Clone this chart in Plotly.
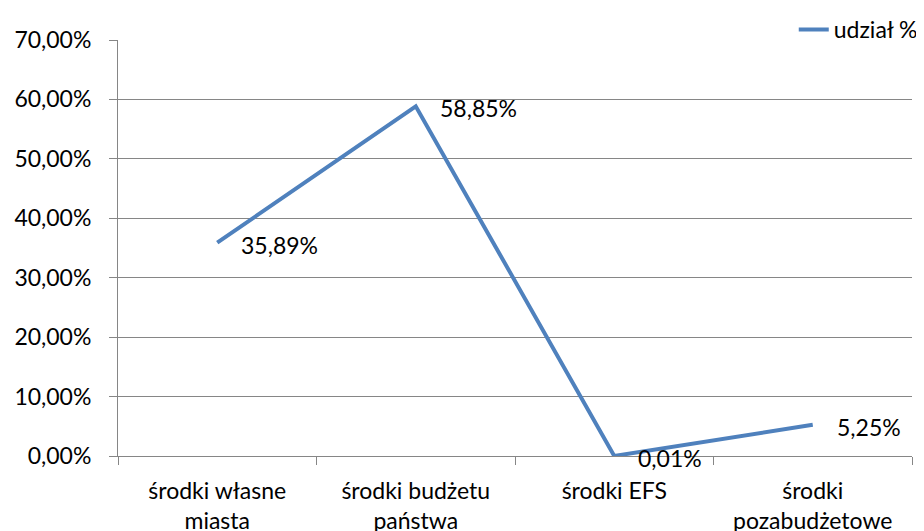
import plotly.graph_objects as go

categories = ["środki własne<br>miasta", "środki budżetu<br>państwa", "środki EFS", "środki<br>pozabudżetowe"]
values = [0.3589, 0.5885, 0.0001, 0.0525]
labels = ["35,89%", "58,85%", "0,01%", "5,25%"]
series_name = "udział %"

FONT = "Lato, Calibri, Carlito, sans-serif"
FS = 23
fig = go.Figure()
fig.add_trace(go.Scatter(
    x=categories, y=values, mode="lines", name=series_name,
    line=dict(color="#4F81BD", width=4),
))
for c, v, t in zip(categories, values, labels):
    fig.add_annotation(x=c, y=v, text=t, showarrow=False, xanchor="left",
                       yanchor="middle", xshift=22, yshift=-2,
                       font=dict(family=FONT, size=FS, color="#000000"))

fig.update_layout(
    width=924, height=531,
    margin=dict(l=110, r=20, t=32, b=83, autoexpand=False),
    paper_bgcolor="white", plot_bgcolor="white",
    separators=", ",
    font=dict(family=FONT, size=FS, color="#000000"),
    showlegend=True,
    legend=dict(xref="container", yref="container", x=0.99, xanchor="right",
                y=1.008, yanchor="top",
                bgcolor="rgba(0,0,0,0)", font=dict(size=FS),
                tracegroupgap=0),
    xaxis=dict(
        range=[-0.5, 3.5],
        showline=True, linecolor="#868686", linewidth=1,
        ticks="outside", ticklen=8, tickcolor="#868686", tickson="boundaries",
        showgrid=False, zeroline=False, ticklabelstandoff=14,
    ),
    yaxis=dict(
        range=[0, 0.7], dtick=0.1, tickformat=".2%",
        showline=True, linecolor="#868686", linewidth=1,
        ticks="outside", ticklen=8, tickcolor="#868686",
        showgrid=True, gridcolor="#868686", gridwidth=1,
        zeroline=False, ticklabelstandoff=13,
    ),
)
fig.write_html("out.html")
